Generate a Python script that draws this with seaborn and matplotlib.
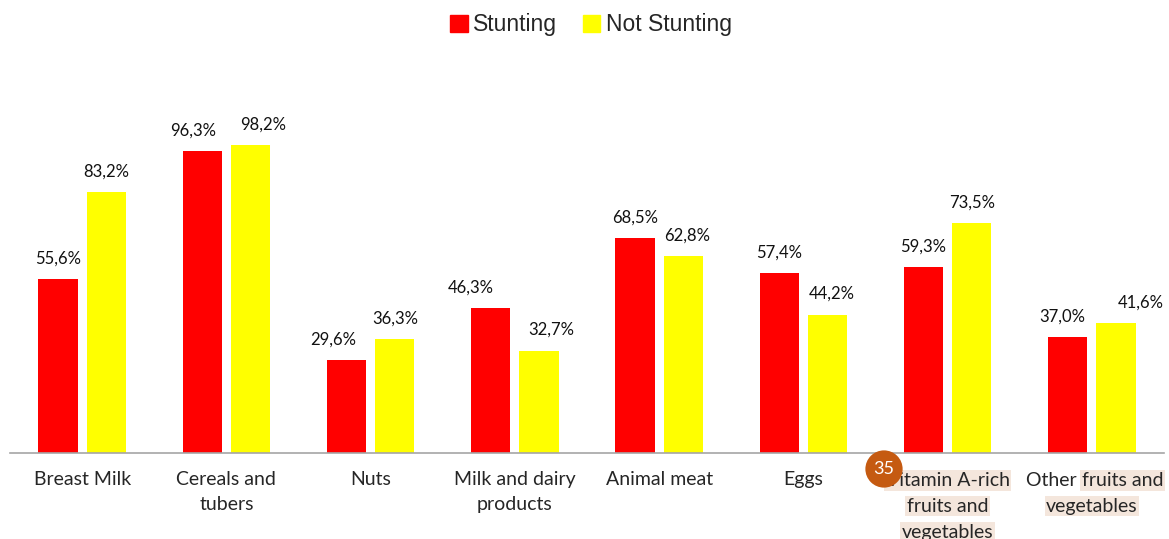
import matplotlib
matplotlib.use("Agg")
import matplotlib.pyplot as plt
import seaborn as sns
import pandas as pd

# -------------------------------
# Dados
# -------------------------------
categorias = [
    "Breast Milk",
    "Cereals and\ntubers",
    "Nuts",
    "Milk and dairy\nproducts",
    "Animal meat",
    "Eggs",
    "Vitamin A-rich\nfruits and\nvegetables",
    "Other fruits and\nvegetables",
]
grupos = ["Stunting", "Not Stunting"]
stunting = [55.6, 96.3, 29.6, 46.3, 68.5, 57.4, 59.3, 37.0]
not_stunting = [83.2, 98.2, 36.3, 32.7, 62.8, 44.2, 73.5, 41.6]
cores = ["#FF0000", "#FFFF00"]

# deslocamento horizontal dos rótulos (px), como no original
desloc = [
    [0, -9, -13, -20, 0, 0, 0, -5],
    [0, 13, 0, 12, 4, 4, 0, 25],
]

df = pd.DataFrame({
    "categoria": categorias * 2,
    "grupo": [grupos[0]] * len(categorias) + [grupos[1]] * len(categorias),
    "valor": stunting + not_stunting,
})

# -------------------------------
# Gráfico
# -------------------------------
sns.set_style("white")
plt.rcParams["font.family"] = ["Lato", "DejaVu Sans"]

fig = plt.figure(figsize=(11.69, 5.39), dpi=100)
ax = fig.add_axes([10 / 1169, 86 / 539, 1154 / 1169, 376 / 539])

sns.barplot(
    data=df, x="categoria", y="valor", hue="grupo",
    palette=cores, saturation=1, width=0.67, gap=0.19,
    linewidth=0, ax=ax, legend=False,
)

for k, cont in enumerate(ax.containers):
    anns = ax.bar_label(
        cont,
        labels=[f"{v.get_height():.1f}%".replace(".", ",") for v in cont],
        padding=9, fontsize=12, color="#111111",
    )
    for ann, dx in zip(anns, desloc[k]):
        ann.xyann = (dx * 0.72, 9)

ax.set_ylim(0, 120)
ax.set_xlim(-0.5, len(categorias) - 0.5)
ax.set_xlabel("")
ax.set_ylabel("")
ax.set_yticks([])
for lado in ["top", "left", "right"]:
    ax.spines[lado].set_visible(False)
ax.spines["bottom"].set_color("#A6A6A6")
ax.spines["bottom"].set_linewidth(1.2)
ax.tick_params(axis="x", length=0, pad=13)

# rótulos do eixo x (dois últimos com realce)
rotulos = list(categorias[:6]) + ["", ""]
ax.set_xticks(range(len(categorias)))
ax.set_xticklabels(rotulos, fontsize=14, linespacing=1.6, va="top")

realce = dict(boxstyle="square,pad=0.08", fc="#F4E6DC", ec="none")
trans = ax.get_xaxis_transform()
y0 = -0.073
dy = -0.069
for i, linha in enumerate(["Vitamin A-rich", "fruits and", "vegetables"]):
    ax.text(6, y0 + i * dy, linha, transform=trans, ha="center", va="center",
            fontsize=14, bbox=realce)
ax.text(6.93, y0, "Other ", transform=trans, ha="right", va="center", fontsize=14)
ax.text(6.93, y0, "fruits and", transform=trans, ha="left", va="center",
        fontsize=14, bbox=realce)
ax.text(7, y0 + dy, "vegetables", transform=trans, ha="center", va="center",
        fontsize=14, bbox=realce)

# marcador de anotação
fig.text(884 / 1169, 1 - 469 / 539, "35", ha="center", va="center",
         fontsize=13, color="white",
         bbox=dict(boxstyle="circle,pad=0.45", fc="#C55A11", ec="none"))

# legenda
handles = [plt.Rectangle((0, 0), 1, 1, color=c) for c in cores]
fig.legend(
    handles, grupos, loc="center", bbox_to_anchor=(591 / 1169, 1 - 25 / 539),
    ncol=2, frameon=False, handlelength=0.75, handleheight=0.75,
    handletextpad=0.25, columnspacing=1.1,
    prop={"family": "Liberation Sans", "size": 16.5},
)

fig.savefig("out.png", dpi=100)
